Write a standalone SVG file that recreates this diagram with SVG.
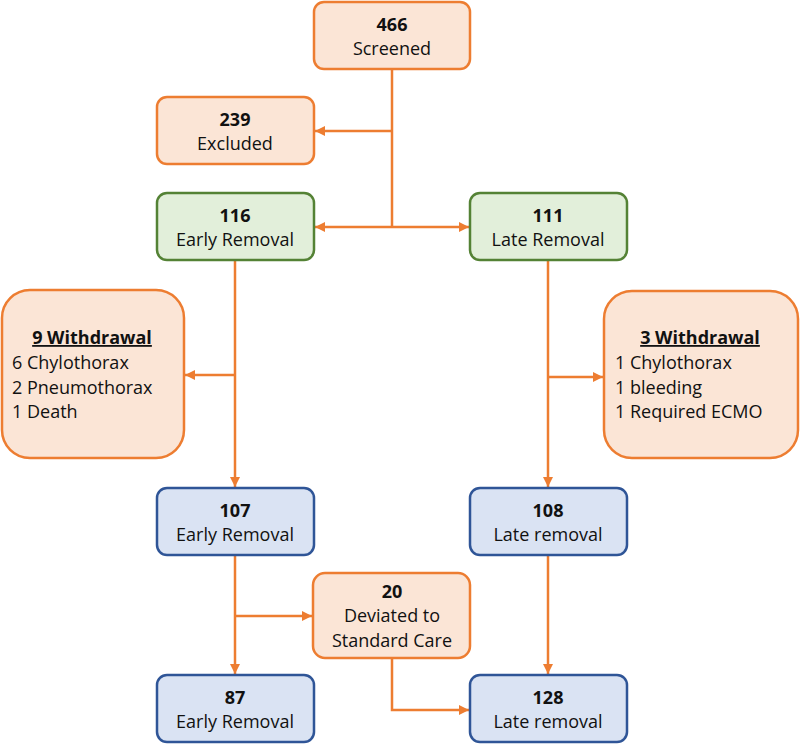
<svg xmlns="http://www.w3.org/2000/svg" width="800" height="746" viewBox="0 0 800 746">
<style>
.o{fill:#FBE5D6;stroke:#ED7D31;stroke-width:2.5}
.g{fill:#E2EFDA;stroke:#548235;stroke-width:2.5}
.b{fill:#DAE3F3;stroke:#2F5597;stroke-width:2.5}
text{font-family:"Open Sans","Liberation Sans",sans-serif;font-size:18px;fill:#111}
.c{text-anchor:middle}
.n{font-weight:bold}
.u{text-decoration:underline}
.ln{fill:none;stroke:#ED7D31;stroke-width:2.5}
</style>
<defs>
<marker id="a" viewBox="0 0 10 10" refX="10" refY="5" markerWidth="4" markerHeight="4" orient="auto" markerUnits="strokeWidth">
<path d="M0,0L10,5L0,10z" fill="#ED7D31"/>
</marker>
</defs>
<g id="connectors">
<path class="ln" d="M392,69V227"/>
<path class="ln" d="M392,131H315" marker-end="url(#a)"/>
<path class="ln" d="M392,227H315" marker-end="url(#a)"/>
<path class="ln" d="M392,227H469" marker-end="url(#a)"/>
<path class="ln" d="M235,260V487" marker-end="url(#a)"/>
<path class="ln" d="M235,375H185" marker-end="url(#a)"/>
<path class="ln" d="M548,260V487" marker-end="url(#a)"/>
<path class="ln" d="M548,377H603" marker-end="url(#a)"/>
<path class="ln" d="M235,555V674" marker-end="url(#a)"/>
<path class="ln" d="M235,616H312" marker-end="url(#a)"/>
<path class="ln" d="M392,658V710H469" marker-end="url(#a)"/>
<path class="ln" d="M548,555V674" marker-end="url(#a)"/>
</g>
<g id="screened"><rect class="o" x="314" y="2" width="156" height="67" rx="10"/><text class="c n" x="392" y="31">466</text><text class="c" x="392" y="55">Screened</text></g>
<g id="excluded"><rect class="o" x="157" y="97" width="157" height="67" rx="10"/><text class="c n" x="235" y="126">239</text><text class="c" x="235" y="150">Excluded</text></g>
<g id="early116"><rect class="g" x="157" y="193" width="157" height="67" rx="10"/><text class="c n" x="235" y="222">116</text><text class="c" x="235" y="246">Early Removal</text></g>
<g id="late111"><rect class="g" x="470" y="193" width="157" height="67" rx="10"/><text class="c n" x="548" y="222">111</text><text class="c" x="548" y="246">Late Removal</text></g>
<g id="withdrawal9"><rect class="o" x="2" y="290" width="182" height="168" rx="28"/><text class="c n u" x="92" y="344">9 Withdrawal</text><text x="12" y="369">6 Chylothorax</text><text x="12" y="394">2 Pneumothorax</text><text x="12" y="418">1 Death</text></g>
<g id="withdrawal3"><rect class="o" x="604" y="291" width="194" height="167" rx="28"/><text class="c n u" x="700" y="344">3 Withdrawal</text><text x="615" y="369">1 Chylothorax</text><text x="615" y="394">1 bleeding</text><text x="615" y="418">1 Required ECMO</text></g>
<g id="early107"><rect class="b" x="157" y="488" width="157" height="67" rx="10"/><text class="c n" x="235" y="517">107</text><text class="c" x="235" y="541">Early Removal</text></g>
<g id="late108"><rect class="b" x="470" y="488" width="157" height="67" rx="10"/><text class="c n" x="548" y="517">108</text><text class="c" x="548" y="541">Late removal</text></g>
<g id="deviated"><rect class="o" x="313" y="573" width="157" height="85" rx="12"/><text class="c n" x="392" y="598">20</text><text class="c" x="392" y="622">Deviated to</text><text class="c" x="392" y="647">Standard Care</text></g>
<g id="early87"><rect class="b" x="157" y="675" width="157" height="67" rx="10"/><text class="c n" x="235" y="704">87</text><text class="c" x="235" y="728">Early Removal</text></g>
<g id="late128"><rect class="b" x="470" y="675" width="157" height="67" rx="10"/><text class="c n" x="548" y="704">128</text><text class="c" x="548" y="728">Late removal</text></g>
</svg>
